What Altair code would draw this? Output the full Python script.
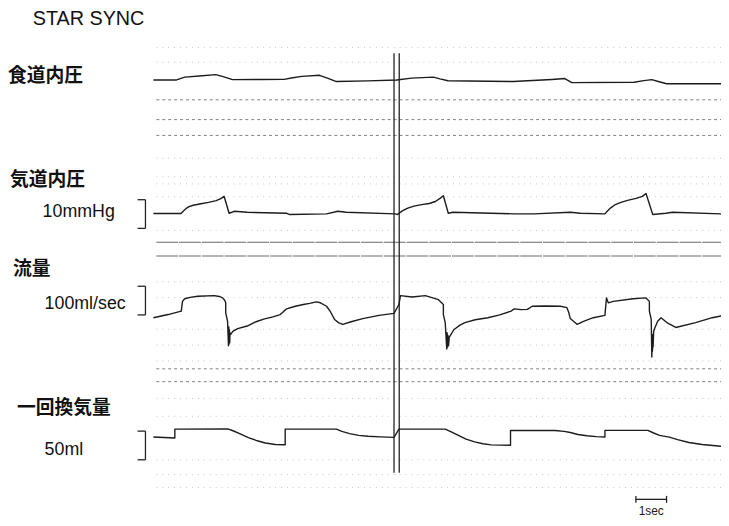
import altair as alt
import pandas as pd

# ---------------- data ----------------
# time in seconds from the start of the traces
# 食道内圧 (esophageal pressure, mmHg, relative)
eso_t = [0, 0.74, 0.90, 1.03, 1.50, 2.03, 2.25, 2.58, 3.50, 4.26, 4.55, 4.84, 5.42, 5.70,
         5.97, 7.00, 7.94, 8.42, 9.13, 9.35, 9.61, 11.74, 13.00, 13.42, 13.55, 13.65,
         15.68, 16.00, 16.26, 16.50, 16.74, 18.52]
eso_v = [0, 0, 0.6, 1.0, 1.4, 1.9, 1.3, 0.14, 0.2, 0.24, 0.8, 1.28, 1.66, 0.6,
         -0.52, -0.3, 0, 0.69, 1.03, 0.4, -0.24, -0.52, 0.2, 0.52, -0.3, -0.9,
         -0.76, -0.2, 0.14, -0.6, -1.28, -1.28]

# 気道内圧 (airway pressure, mmHg)
paw_t = [0, 0.90, 0.98, 1.06, 1.16, 1.30, 1.55, 1.80, 2.05, 2.20, 2.31, 2.47, 2.64, 3.06,
         4.35, 4.45, 5.65, 6.02, 6.29, 7.90, 7.96, 8.05, 8.15, 8.30, 8.50, 8.75, 9.00,
         9.20, 9.35, 9.46, 9.62, 9.77, 11.77, 12.42, 13.60, 13.93, 14.73, 14.82, 14.92,
         15.05, 15.25, 15.50, 15.75, 15.95, 16.07, 16.29, 16.72, 16.94, 18.52]
paw_v = [0, 0, 0.9, 1.7, 2.4, 2.9, 3.4, 3.9, 4.5, 5.2, 5.97, 0.1, 0.79, 0.45,
         0.1, -0.34, -0.1, 0.79, 0.45, -0.1, -0.34, 0.4, 1.1, 1.9, 2.6, 3.1, 3.5,
         4.2, 5.3, 6.2, 0.1, 0.45, -0.1, -0.1, 0.45, 0.1, -0.1, 1.0, 2.0,
         3.0, 3.9, 4.7, 5.3, 6.0, 7.0, -0.34, 0.1, 0.45, -0.1]

# 流量 (flow, ml/sec)
flow_t = [0, 0.48, 0.91, 0.95, 1.02, 1.20, 1.45, 1.99, 2.15, 2.26, 2.33, 2.36, 2.36,
          2.42, 2.45, 2.46, 2.47, 2.48, 2.49, 2.50, 2.52, 2.60, 2.75, 3.06, 3.35, 3.60,
          3.90, 4.14, 4.25, 4.35, 4.60, 4.89, 5.10, 5.32, 5.45, 5.65, 5.78, 5.91, 6.05,
          6.18, 6.45, 6.83, 7.36, 7.85, 8.01, 8.06, 8.44, 8.87, 9.30, 9.46, 9.46, 9.52,
          9.57, 9.58, 9.60, 9.61, 9.63, 9.65, 9.68, 9.80, 10.00, 10.16, 10.50, 10.91,
          11.30, 11.67, 11.77, 12.00, 12.20, 12.36, 12.80, 13.28, 13.49, 13.55, 13.60,
          13.82, 14.05, 14.35, 14.73, 14.78, 14.84, 15.00, 15.65, 16.07, 16.18, 16.18,
          16.24, 16.26, 16.27, 16.28, 16.29, 16.30, 16.32, 16.34, 16.45, 16.56, 16.75,
          17.04, 17.69, 18.23, 18.52]
flow_v = [-8, 3, 15, 49, 58, 63, 67, 69, 66, 61, 52, 44, 9,
          -20, -106, -40, -100, -50, -95, -60, -66, -55, -46, -37, -22, -13,
          -5, 3, 14, 23, 31, 38, 42, 47, 44, 32, 12, -14, -26,
          -31, -22, -11, 0, 7, 38, 69, 64, 69, 55, 38, 3, -25,
          -117, -60, -110, -70, -105, -76, -71, -50, -34, -25, -15, -8,
          2, 15, 23, 20, 21, 32, 33, 32, 27, 10, -11,
          -31, -20, -8, 0, 61, 44, 49, 58, 61, 49, 15,
          -14, -145, -66, -125, -80, -110, -55, -48, -20, -8, -25,
          -42, -25, -8, -2]

# 一回換気量 (tidal volume, ml)
vol_t = [0, 0.70, 0.70, 2.42, 2.60, 2.85, 3.10, 3.39, 3.65, 3.98, 4.30, 4.30, 5.97,
         6.15, 6.40, 6.70, 7.00, 7.40, 7.85, 8.01, 9.52, 9.70, 9.95, 10.20, 10.48,
         10.75, 11.02, 11.65, 11.65, 13.10, 13.40, 13.60, 13.85, 14.14, 14.45, 14.73,
         14.73, 16.13, 16.30, 16.51, 16.83, 17.10, 17.47, 17.90, 18.52]
vol_v = [15.5, 13.8, 29.3, 29.8, 26.5, 20.5, 14.5, 9.0, 5.2, 2.5, 2.2, 29.3, 29.3,
         25.5, 21.5, 18.5, 16.8, 15.8, 15.0, 29.3, 29.3, 25.0, 18.5, 12.0, 7.0,
         3.8, 1.8, 1.2, 27.1, 27.0, 25.5, 23.5, 20.0, 17.8, 16.2, 15.5,
         27.1, 27.1, 23.0, 18.5, 15.5, 11.0, 6.0, 2.5, -0.5]

channel_labels = ["食道内圧", "気道内圧", "流量", "一回換気量"]
scale_labels = ["10mmHg", "100ml/sec", "50ml"]
scale_values = [10, 100, 50]          # size of each calibration bracket
marker_times = [7.85, 8.02]           # double vertical marker
time_bar = [15.74, 16.74]             # 1 sec bar
title_text = "STAR SYNC"
time_label = "1sec"

# ---------------- layout ----------------
PX_PER_S = 31.0
T0 = 155.0
W, H = 721, 510


def tx(px):
    return (px - T0) / PX_PER_S


xs = alt.Scale(domain=[tx(8), tx(8 + W)], nice=False, zero=False)
ys = alt.Scale(domain=[8 + H, 8], nice=False, zero=False)
X = lambda f: alt.X(f, scale=xs, axis=None)
Y = lambda f: alt.Y(f, scale=ys, axis=None)

# baselines and gains (screen units per physical unit)
chan = [
    ("eso", eso_t, eso_v, 78, 2.9),
    ("paw", paw_t, paw_v, 213, 2.9),
    ("flow", flow_t, flow_v, 316, 0.29),
    ("vol", vol_t, vol_v, 448, 0.58),
]
frames = []
for name, ts, vs, base, gain in chan:
    frames.append(pd.DataFrame({"t": ts, "y": [base - v * gain for v in vs],
                                "ch": name, "i": list(range(len(ts)))}))
traces = pd.concat(frames, ignore_index=True)

# background rows of the chart paper
faint_rows = [45, 60, 157, 176, 183, 196, 230, 282, 298, 330, 346, 362, 400, 418, 462, 477, 490]
mid_rows = [98, 118, 134, 370, 383]
dark_rows = [242, 256]


def rows_df(rows):
    return pd.DataFrame({"t": [tx(158)] * len(rows), "t2": [tx(729)] * len(rows), "y": rows, "y2": rows})


def rule_layer(df, color, width, dash=None, opacity=1.0):
    kw = dict(color=color, strokeWidth=width, opacity=opacity)
    if dash:
        kw["strokeDash"] = dash
    return alt.Chart(df).mark_rule(**kw).encode(x=X("t:Q"), x2="t2:Q", y=Y("y:Q"), y2="y2:Q")


grid = (rule_layer(rows_df(faint_rows), "#c4c4c4", 1, [1, 5])
        + rule_layer(rows_df(mid_rows), "#808080", 1, [3, 3])
        + rule_layer(rows_df(dark_rows), "#6a6a6a", 1.1, [22, 1]))

# calibration brackets
br_centers = [213.5, 301, 447.5]
br_gains = [2.9, 0.29, 0.58]
bt, bl = tx(147), tx(139)
seg = []
for c, g, v in zip(br_centers, br_gains, scale_values):
    h = v * g
    top, bot = c - h / 2, c + h / 2
    seg += [(bt, bt, top, bot), (bl, bt, top, top), (bl, bt, bot, bot)]
# double marker line
for m in marker_times:
    seg.append((m, m, 51, 475))
# 1 sec bar
seg += [(time_bar[0], time_bar[1], 502, 502),
        (time_bar[0], time_bar[0], 498.5, 505.5),
        (time_bar[1], time_bar[1], 498.5, 505.5)]
segs = pd.DataFrame(seg, columns=["t", "t2", "y", "y2"])
annot = rule_layer(segs, "#222222", 1.3)

lines = alt.Chart(traces).mark_line(color="#1c1c1c", strokeWidth=1.4, clip=True,
                                    strokeJoin="round", interpolate="linear").encode(
    x=X("t:Q"), y=Y("y:Q"), detail="ch:N", order="i:Q")

# texts
title_df = pd.DataFrame({"t": [tx(33)], "y": [22.5], "label": [title_text]})
title = alt.Chart(title_df).mark_text(align="left", baseline="alphabetic", fontSize=20,
                                      font="Liberation Sans", color="#111111").encode(
    x=X("t:Q"), y=Y("y:Q"), text="label:N")

cjk_df = pd.DataFrame({"t": [tx(8), tx(10), tx(13), tx(17)], "y": [74, 179, 269, 410],
                       "label": channel_labels})
cjk = alt.Chart(cjk_df).mark_text(align="left", baseline="middle", fontSize=19, fontWeight="bold",
                                  font="Noto Sans CJK JP", color="#111111").encode(
    x=X("t:Q"), y=Y("y:Q"), text="label:N")

unit_df = pd.DataFrame({"t": [tx(43), tx(45), tx(45)], "y": [216, 310, 457], "label": scale_labels})
units = alt.Chart(unit_df).mark_text(align="left", baseline="alphabetic", fontSize=18,
                                     font="Liberation Sans", color="#111111").encode(
    x=X("t:Q"), y=Y("y:Q"), text="label:N")

sec_df = pd.DataFrame({"t": [(time_bar[0] + time_bar[1]) / 2], "y": [517.5], "label": [time_label]})
sec = alt.Chart(sec_df).mark_text(align="center", baseline="alphabetic", fontSize=12,
                                  font="Liberation Sans", color="#1a1a1a").encode(
    x=X("t:Q"), y=Y("y:Q"), text="label:N")

chart = alt.layer(grid, annot, lines, title, cjk, units, sec).properties(
    width=W, height=H, padding=0, autosize=alt.AutoSizeParams(type="none"),
    background="white"
).configure_view(stroke=None)

chart.save("out.html", embed_options={"renderer": "svg", "actions": False})
